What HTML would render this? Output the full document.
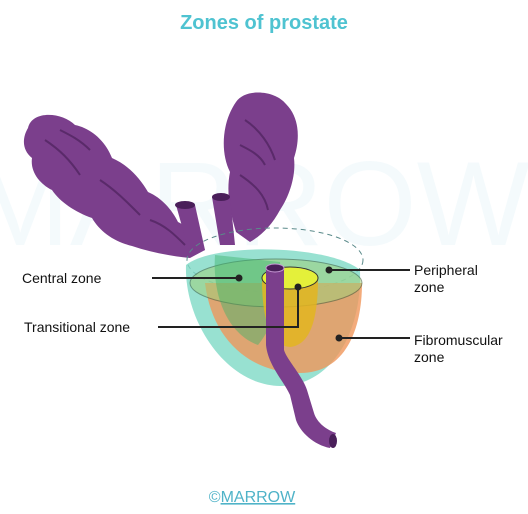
<!DOCTYPE html>
<html><head><meta charset="utf-8"><style>
html,body{margin:0;padding:0;background:#fff}
svg{display:block;font-family:"Liberation Sans",sans-serif}
</style></head><body>
<svg width="528" height="514" viewBox="0 0 528 514">
<text x="264" y="29" text-anchor="middle" font-size="20" font-weight="bold" fill="#4fc3d1">Zones of prostate</text>
<text x="250" y="245" text-anchor="middle" font-size="120" fill="#eef8fb" opacity="0.6">MARROW</text>
<g>
<path d="M28 128 C32 110 62 112 75 125 C90 128 105 140 112 158 C128 165 140 178 148 192 C162 198 172 210 178 222 C190 228 200 238 205 250 L190 258 C170 256 150 252 132 246 C115 242 100 232 92 218 C75 212 60 202 52 190 C40 184 30 172 32 158 C22 150 22 138 28 128Z" fill="#7b3f8c"/>
<path d="M45 140 C60 150 70 160 80 175 M100 180 C115 190 125 200 140 215 M150 220 C165 225 175 235 185 245 M60 130 C70 135 80 140 90 150" stroke="#5a2a6a" stroke-width="2" fill="none"/>
</g>
<g>
<path d="M236 102 C245 88 275 90 286 104 C300 118 300 140 294 158 C296 175 290 195 280 210 C272 225 262 235 250 242 L236 232 C230 212 226 192 230 172 C220 152 222 122 236 102Z" fill="#7b3f8c"/>
<path d="M245 120 C260 130 270 145 275 160 M240 175 C255 185 265 195 268 210 M240 145 C250 150 260 155 265 165" stroke="#5a2a6a" stroke-width="2" fill="none"/>
</g>
<g>
<path d="M176 205 L195 205 L205 250 L190 255Z" fill="#7b3f8c"/>
<ellipse cx="185" cy="205" rx="10" ry="4" fill="#4a1f5a"/>
<path d="M212 197 L230 197 L235 245 L220 245Z" fill="#7b3f8c"/>
<ellipse cx="221" cy="197" rx="9" ry="4" fill="#4a1f5a"/>
</g>
<g>
<ellipse cx="275" cy="260" rx="88" ry="32" fill="none" stroke="#5a8a8a" stroke-dasharray="5 4"/>
<path d="M186 265 C184 320 225 385 280 386 C330 386 362 335 360 270 C330 245 215 242 186 265Z" fill="#7ed9c6" opacity="0.8"/>
<path d="M205 283 C212 340 250 373 300 373 C345 373 362 330 362 283Z" fill="#f0965a" opacity="0.8"/>
<ellipse cx="276" cy="283" rx="86" ry="24" fill="#9fd07a" opacity="0.55" stroke="#3a5a3a"/>
<path d="M215 255 C212 300 230 335 258 345 C278 320 282 290 280 262Z" fill="#3bb36a" opacity="0.45"/>
<path d="M262 278 L318 278 C318 320 310 345 290 347 C270 345 262 320 262 278Z" fill="#e3b520" opacity="0.85"/>
<ellipse cx="290" cy="278" rx="28" ry="11" fill="#e4f03a" stroke="#333"/>
<path d="M266 268 L284 268 L284 350 C287 360 302 375 307 390 L314 413 C317 423 327 430 336 433 L330 448 C314 445 300 432 296 420 L290 395 C283 380 268 365 266 345Z" fill="#7b3f8c"/>
<ellipse cx="275" cy="268" rx="9" ry="4" fill="#4a1f5a" stroke="#c89ad6"/>
<ellipse cx="333" cy="441" rx="4" ry="7" fill="#4a1f5a"/>
</g>
<g stroke="#222" stroke-width="2" fill="none">
<path d="M152 278 H239"/><path d="M329 270 H410"/><path d="M158 327 H298 V287"/><path d="M339 338 H410"/>
</g>
<g fill="#222">
<circle cx="239" cy="278" r="3.5"/><circle cx="329" cy="270" r="3.5"/><circle cx="298" cy="287" r="3.5"/><circle cx="339" cy="338" r="3.5"/>
</g>
<g font-size="14" fill="#111">
<text x="22" y="283">Central zone</text>
<text x="24" y="332">Transitional zone</text>
<text x="414" y="275"><tspan x="414">Peripheral</tspan><tspan x="414" dy="17">zone</tspan></text>
<text x="414" y="345"><tspan x="414">Fibromuscular</tspan><tspan x="414" dy="17">zone</tspan></text>
</g>
<text x="252" y="502" text-anchor="middle" font-size="16" fill="#4fb3c8">©<tspan text-decoration="underline">MARROW</tspan></text>
</svg>
</body></html>
